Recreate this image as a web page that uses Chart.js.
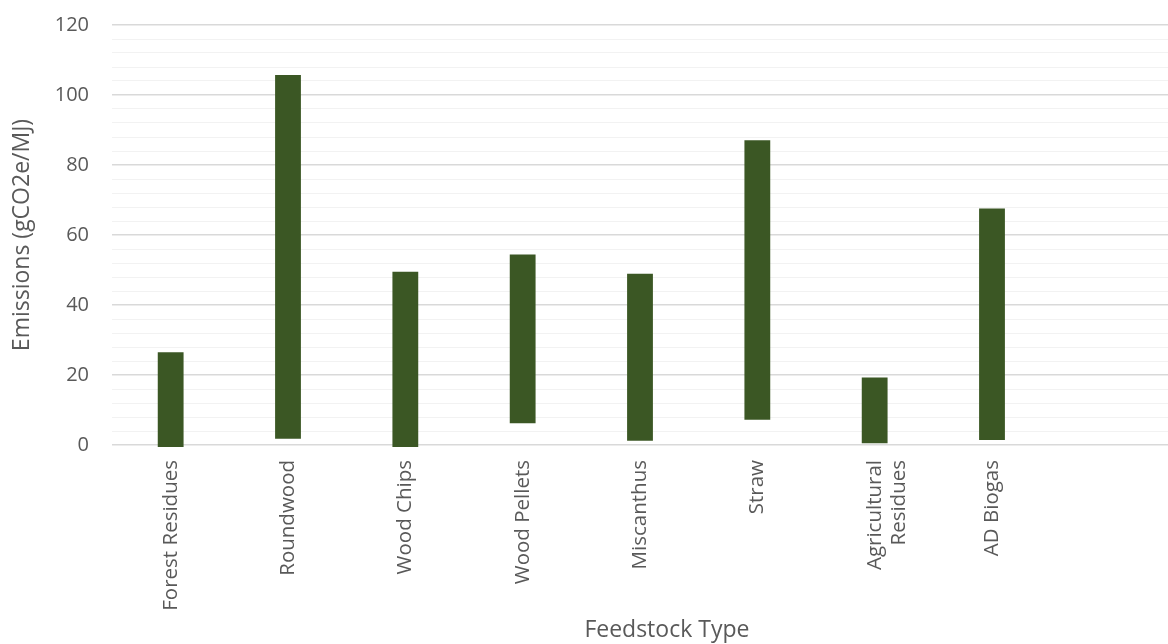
<!DOCTYPE html>
<html>
  <head>
    <meta charset='utf-8'>
    <title>Feedstock emissions</title>
    <style>
      html, body { margin: 0; padding: 0; background: #fff; }
      #wrap { width: 1168px; height: 644px; }
    </style>
    <script src='https://cdn.jsdelivr.net/npm/chart.js@4/dist/chart.umd.min.js'></script>
  </head>
  <body>
    <div id='wrap'><canvas id='chart'></canvas></div>

    <script>
    var categories = [
      'Forest Residues', 'Roundwood', 'Wood Chips', 'Wood Pellets',
      'Miscanthus', 'Straw', ['Agricultural', 'Residues'], 'AD Biogas', ''
    ];
    // low and high end of each range, gCO2e/MJ
    var lows  = [-0.6, 1.8, -0.6, 6.2, 1.2, 7.2, 0.5, 1.4, null];
    var highs = [26.5, 105.7, 49.5, 54.4, 48.9, 87.1, 19.3, 67.6, null];
    var yTicks = [0, 20, 40, 60, 80, 100, 120];

    var ranges = lows.map(function (lo, i) {
      return lo === null ? null : [lo, highs[i]];
    });

    var textColor = '#595959';
    var font = 'Open Sans';

    var ctx = document.getElementById('chart').getContext('2d');
    var chart = new Chart(ctx, {
      type: 'bar',
      data: {
        labels: categories,
        datasets: [{
          data: ranges,
          backgroundColor: '#3b5724',
          borderWidth: 0,
          barPercentage: 1,
          categoryPercentage: 0.22,
          clip: false
        }]
      },
      options: {
        responsive: true,
        maintainAspectRatio: false,
        animation: false,
        layout: { padding: { top: 25, right: 0, left: 0, bottom: 0 } },
        plugins: {
          legend: { display: false },
          tooltip: { enabled: false }
        },
        scales: {
          x: {
            grid: { display: false },
            border: { display: false },
            ticks: {
              color: textColor,
              font: { family: font, size: 20.5 },
              minRotation: 90,
              maxRotation: 90,
              padding: 7,
              autoSkip: false
            },
            title: {
              display: true,
              // leading spaces nudge the title right, as in the original
              text: '         Feedstock Type',
              color: textColor,
              font: { family: font, size: 23 },
              padding: { top: 0, bottom: 0 }
            },
            afterFit: function (scale) { scale.height = 199; }
          },
          y: {
            min: 0,
            max: yTicks[yTicks.length - 1],
            border: { display: false },
            grid: {
              drawTicks: false,
              color: function (c) {
                return c.tick.value % 20 === 0 ? '#d9d9d9' : '#f2f2f2';
              },
              lineWidth: function (c) {
                return c.tick.value % 20 === 0 ? 1.5 : 1;
              }
            },
            ticks: {
              stepSize: 4,
              autoSkip: false,
              color: textColor,
              font: { family: font, size: 20 },
              padding: 23,
              callback: function (v) {
                return yTicks.indexOf(v) >= 0 ? v : '';
              }
            },
            title: {
              display: true,
              text: 'Emissions (gCO2e/MJ)',
              color: textColor,
              font: { family: font, size: 23 },
              padding: { top: 9, bottom: 0 }
            },
            afterFit: function (scale) {
              scale.width = 112;
              scale.paddingTop = 0;
              scale.paddingBottom = 0;
            }
          }
        }
      }
    });
    </script>
  </body>
</html>
